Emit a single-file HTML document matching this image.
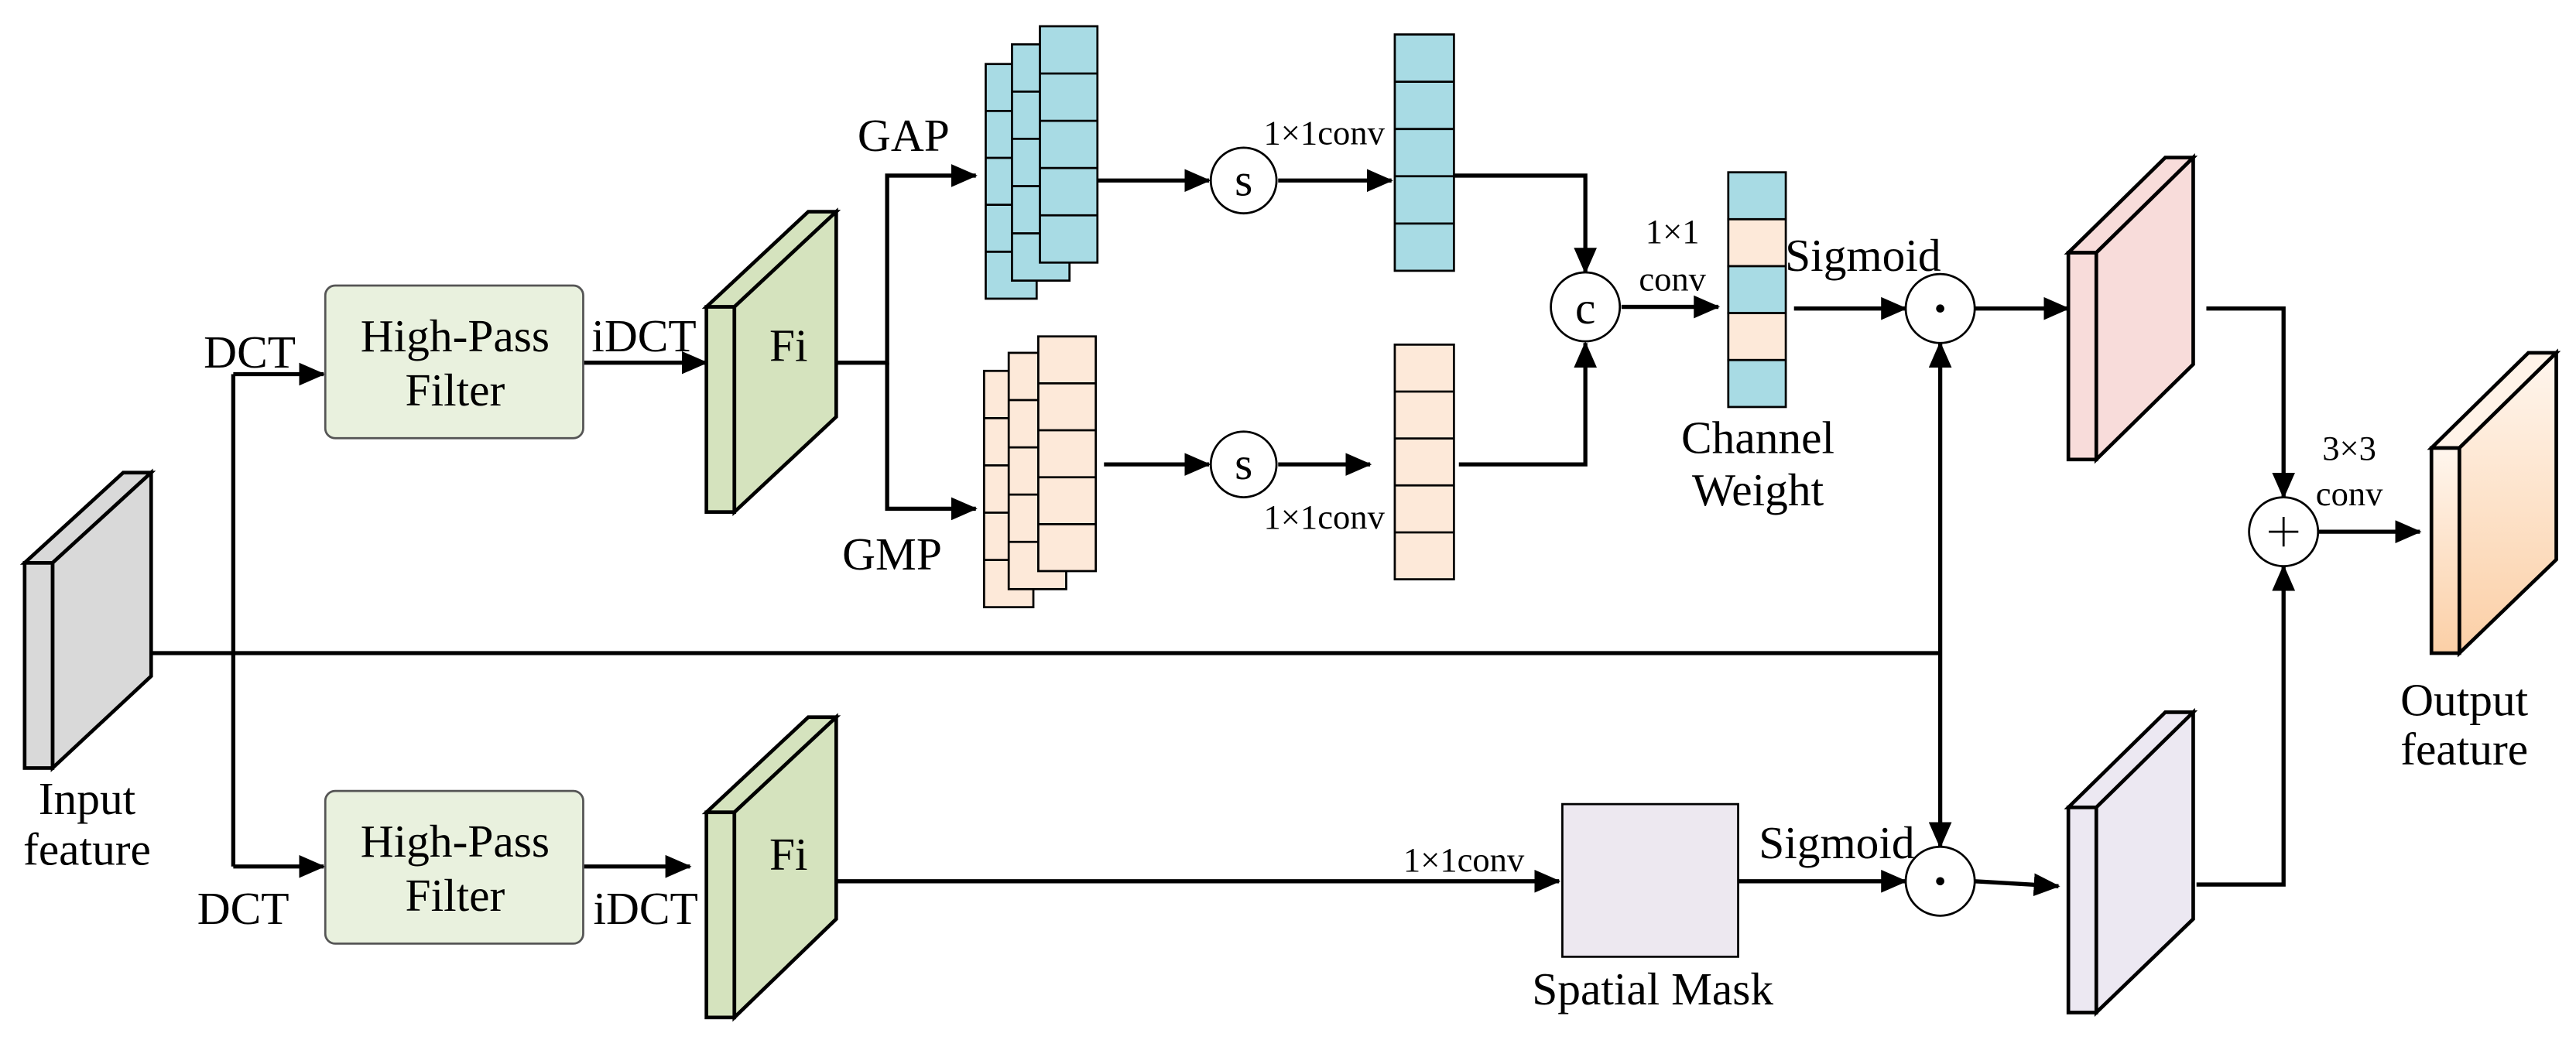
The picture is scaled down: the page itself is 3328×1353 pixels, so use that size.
<!DOCTYPE html>
<html><head><meta charset="utf-8"><style>
html,body{margin:0;padding:0;background:#fff;}
svg{display:block;}
text{font-family:"Liberation Serif","Times New Roman","DejaVu Serif",serif;fill:#000;}
</style></head><body>
<svg width="3328" height="1353" viewBox="0 0 1568 638" preserveAspectRatio="none" xmlns="http://www.w3.org/2000/svg">
<defs>
<marker id="a" markerUnits="userSpaceOnUse" markerWidth="16" markerHeight="14" refX="15" refY="7" orient="auto">
<path d="M0,0 L16,7 L0,14 Z" fill="#000"/>
</marker>
<linearGradient id="og" x1="0" y1="0" x2="0" y2="1">
<stop offset="0" stop-color="#fff6ee"/><stop offset="1" stop-color="#fbcfa6"/>
</linearGradient>
</defs>
<g stroke="#000" stroke-width="2.5" fill="none">
<path d="M92,398 H1181"/>
<path d="M142,228 V528"/>
<path d="M142,228 H197" marker-end="url(#a)"/>
<path d="M142,528 H197" marker-end="url(#a)"/>
<path d="M355,221 H430" marker-end="url(#a)"/>
<path d="M355,528 H420" marker-end="url(#a)"/>
<path d="M509,221 H540 V107 H594" marker-end="url(#a)"/>
<path d="M540,221 V310 H594" marker-end="url(#a)"/>
<path d="M668,110 H736" marker-end="url(#a)"/>
<path d="M672,283 H736" marker-end="url(#a)"/>
<path d="M778,110 H847" marker-end="url(#a)"/>
<path d="M778,283 H834" marker-end="url(#a)"/>
<path d="M885,107 H965 V166" marker-end="url(#a)"/>
<path d="M888,283 H965 V209" marker-end="url(#a)"/>
<path d="M987,187 H1046" marker-end="url(#a)"/>
<path d="M1092,188 H1160" marker-end="url(#a)"/>
<path d="M1202,188 H1259" marker-end="url(#a)"/>
<path d="M1181,398 V209" marker-end="url(#a)"/>
<path d="M1181,398 V516" marker-end="url(#a)"/>
<path d="M1343,188 H1390 V303" marker-end="url(#a)"/>
<path d="M1337,539 H1390 V345" marker-end="url(#a)"/>
<path d="M1411,324 H1473" marker-end="url(#a)"/>
<path d="M509,537 H949" marker-end="url(#a)"/>
<path d="M1058,537 H1160" marker-end="url(#a)"/>
<path d="M1202,537 L1253,540" marker-end="url(#a)"/>
</g>
<g stroke="#000" stroke-width="2.2">
<polygon points="15,343 75,288 92,288 32,343" fill="#d9d9d9"/>
<polygon points="32,343 92,288 92,412 32,468" fill="#d9d9d9"/>
<rect x="15" y="343" width="17" height="125" fill="#d9d9d9"/>
<polygon points="430,187 492,129 509,129 447,187" fill="#d5e3be"/>
<polygon points="447,187 509,129 509,254 447,312" fill="#d5e3be"/>
<rect x="430" y="187" width="17" height="125" fill="#d5e3be"/>
<polygon points="430,495 492,437 509,437 447,495" fill="#d5e3be"/>
<polygon points="447,495 509,437 509,560 447,620" fill="#d5e3be"/>
<rect x="430" y="495" width="17" height="125" fill="#d5e3be"/>
<polygon points="1259,154 1318,96 1335,96 1276,154" fill="#f8dcda"/>
<polygon points="1276,154 1335,96 1335,222 1276,280" fill="#f8dcda"/>
<rect x="1259" y="154" width="17" height="126" fill="#f8dcda"/>
<polygon points="1259,492 1318,434 1335,434 1276,492" fill="#ece8f2"/>
<polygon points="1276,492 1335,434 1335,560 1276,617" fill="#ece8f2"/>
<rect x="1259" y="492" width="17" height="125" fill="#ece8f2"/>
<polygon points="1480,273 1539,215 1556,215 1497,273" fill="#fff3e8"/>
<polygon points="1497,273 1556,215 1556,341 1497,398" fill="url(#og)"/>
<rect x="1480" y="273" width="17" height="125" fill="url(#og)"/>
</g>
<g stroke="#000" stroke-width="1.3">
<rect x="198" y="174" width="157" height="93" rx="6" fill="#e9f1de" stroke="#555"/>
<rect x="198" y="482" width="157" height="93" rx="6" fill="#e9f1de" stroke="#555"/>
<g fill="#a8dbe4">
<rect x="600" y="39" width="31" height="143"/>
<path d="M600,67.6 H631 M600,96.2 H631 M600,124.8 H631 M600,153.4 H631" fill="none"/>
<rect x="616" y="27" width="35" height="144"/>
<path d="M616,55.8 H651 M616,84.6 H651 M616,113.4 H651 M616,142.2 H651" fill="none"/>
<rect x="633" y="16" width="35" height="144"/>
<path d="M633,44.8 H668 M633,73.6 H668 M633,102.4 H668 M633,131.2 H668" fill="none"/>
<rect x="849" y="21" width="36" height="144"/>
<path d="M849,49.8 H885 M849,78.6 H885 M849,107.4 H885 M849,136.2 H885" fill="none"/>
</g>
<g fill="#fde9d9">
<rect x="599" y="226" width="30" height="144"/>
<path d="M599,254.8 H629 M599,283.6 H629 M599,312.4 H629 M599,341.2 H629" fill="none"/>
<rect x="614" y="215" width="35" height="144"/>
<path d="M614,243.8 H649 M614,272.6 H649 M614,301.4 H649 M614,330.2 H649" fill="none"/>
<rect x="632" y="205" width="35" height="143"/>
<path d="M632,233.6 H667 M632,262.2 H667 M632,290.8 H667 M632,319.4 H667" fill="none"/>
<rect x="849" y="210" width="36" height="143"/>
<path d="M849,238.6 H885 M849,267.2 H885 M849,295.8 H885 M849,324.4 H885" fill="none"/>
</g>
<rect x="1052" y="105" width="35" height="28.6" fill="#a8dbe4"/>
<rect x="1052" y="133.6" width="35" height="28.6" fill="#fde9d9"/>
<rect x="1052" y="162.2" width="35" height="28.6" fill="#a8dbe4"/>
<rect x="1052" y="190.8" width="35" height="28.6" fill="#fde9d9"/>
<rect x="1052" y="219.4" width="35" height="28.6" fill="#a8dbe4"/>
<rect x="951" y="490" width="107" height="93" fill="#ede8f0"/>
<g fill="#fff">
<circle cx="757" cy="110" r="20"/>
<circle cx="757" cy="283" r="20"/>
<circle cx="965" cy="187" r="21"/>
<circle cx="1181" cy="188" r="21"/>
<circle cx="1181" cy="537" r="21"/>
<circle cx="1390" cy="324" r="21"/>
</g>
</g>
<circle cx="1181" cy="188" r="2.5" fill="#000"/>
<circle cx="1181" cy="537" r="2.5" fill="#000"/>
<path d="M1381,324 H1399 M1390,315 V333" stroke="#000" stroke-width="1.3"/>
<g font-size="28" text-anchor="middle" font-family="Liberation Serif, serif">
<text x="757" y="119">s</text>
<text x="757" y="292">s</text>
<text x="965" y="197">c</text>
<text x="277" y="214">High-Pass</text>
<text x="277" y="247">Filter</text>
<text x="277" y="522">High-Pass</text>
<text x="277" y="555">Filter</text>
<text x="480" y="220">Fi</text>
<text x="480" y="530">Fi</text>
<text x="152" y="224">DCT</text>
<text x="148" y="563">DCT</text>
<text x="392" y="214">iDCT</text>
<text x="393" y="563">iDCT</text>
<text x="550" y="92">GAP</text>
<text x="543" y="347">GMP</text>
<text x="53" y="496">Input</text>
<text x="53" y="527">feature</text>
<text x="1070" y="276">Channel</text>
<text x="1070" y="308">Weight</text>
<text x="1134" y="165">Sigmoid</text>
<text x="1118" y="523">Sigmoid</text>
<text x="1006" y="612">Spatial Mask</text>
<text x="1500" y="436">Output</text>
<text x="1500" y="466">feature</text>
</g>
<g font-size="21" text-anchor="middle" font-family="Liberation Serif, serif">
<text x="806" y="88">1×1conv</text>
<text x="806" y="322">1×1conv</text>
<text x="891" y="531">1×1conv</text>
<text x="1018" y="148">1×1</text>
<text x="1018" y="177">conv</text>
<text x="1430" y="280">3×3</text>
<text x="1430" y="308">conv</text>
</g>
</svg>
</body></html>
